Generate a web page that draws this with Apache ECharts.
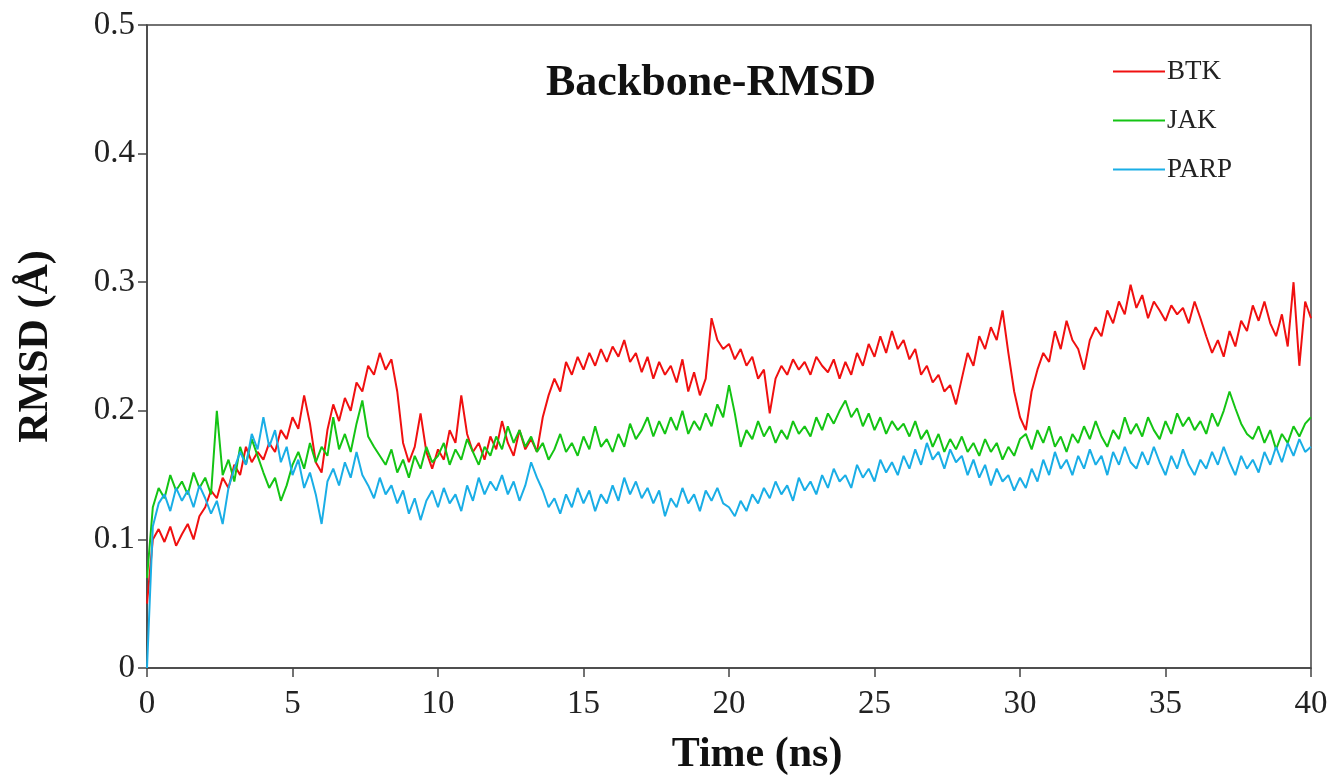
<!DOCTYPE html>
<html>
<head>
<meta charset="utf-8">
<script src="https://cdn.jsdelivr.net/npm/echarts@6/dist/echarts.min.js"></script>
<style>
  html, body { margin: 0; padding: 0; background: #fff; }
  #main { width: 1335px; height: 780px; }
</style>
</head>
<body>
<div id="main"></div>
<script>
// time step between samples (ns)
var step = 0.2;

var btk = [
  0.050, 0.100, 0.108, 0.098, 0.110, 0.095, 0.104, 0.112, 0.100, 0.118,
  0.125, 0.138, 0.132, 0.148, 0.140, 0.158, 0.150, 0.172, 0.160, 0.168,
  0.162, 0.175, 0.168, 0.185, 0.178, 0.195, 0.186, 0.212, 0.190, 0.160,
  0.152, 0.185, 0.205, 0.192, 0.210, 0.200, 0.222, 0.215, 0.235, 0.228,
  0.245, 0.232, 0.240, 0.215, 0.175, 0.160, 0.172, 0.198, 0.168, 0.155,
  0.170, 0.162, 0.185, 0.175, 0.212, 0.182, 0.168, 0.175, 0.162, 0.180,
  0.170, 0.192, 0.175, 0.165, 0.185, 0.170, 0.178, 0.168, 0.195, 0.212,
  0.225, 0.215, 0.238, 0.228, 0.242, 0.232, 0.245, 0.235, 0.248, 0.238,
  0.250, 0.242, 0.255, 0.238, 0.245, 0.230, 0.242, 0.225, 0.238, 0.228,
  0.235, 0.222, 0.240, 0.215, 0.230, 0.212, 0.225, 0.272, 0.255, 0.248,
  0.252, 0.240, 0.248, 0.235, 0.242, 0.225, 0.232, 0.198, 0.225, 0.235,
  0.228, 0.240, 0.232, 0.238, 0.228, 0.242, 0.235, 0.230, 0.240, 0.225,
  0.238, 0.228, 0.245, 0.235, 0.252, 0.242, 0.258, 0.245, 0.262, 0.248,
  0.255, 0.240, 0.248, 0.228, 0.235, 0.222, 0.228, 0.215, 0.220, 0.205,
  0.225, 0.245, 0.235, 0.258, 0.248, 0.265, 0.255, 0.278, 0.245, 0.215,
  0.195, 0.185, 0.215, 0.232, 0.245, 0.238, 0.262, 0.248, 0.270, 0.255,
  0.248, 0.232, 0.255, 0.265, 0.258, 0.278, 0.268, 0.285, 0.275, 0.298,
  0.280, 0.290, 0.272, 0.285, 0.278, 0.270, 0.282, 0.275, 0.280, 0.268,
  0.285, 0.272, 0.258, 0.245, 0.255, 0.242, 0.262, 0.250, 0.270, 0.262,
  0.282, 0.270, 0.285, 0.268, 0.258, 0.275, 0.250, 0.300, 0.235, 0.285,
  0.272
];

var jak = [
  0.070, 0.125, 0.140, 0.132, 0.150, 0.138, 0.145, 0.135, 0.152, 0.140,
  0.148, 0.135, 0.200, 0.150, 0.162, 0.145, 0.172, 0.158, 0.178, 0.165,
  0.152, 0.140, 0.148, 0.130, 0.142, 0.158, 0.168, 0.155, 0.175, 0.160,
  0.172, 0.165, 0.195, 0.170, 0.182, 0.168, 0.190, 0.208, 0.180, 0.172,
  0.165, 0.158, 0.170, 0.152, 0.162, 0.148, 0.165, 0.155, 0.172, 0.160,
  0.165, 0.175, 0.158, 0.170, 0.162, 0.178, 0.168, 0.158, 0.172, 0.165,
  0.180, 0.170, 0.188, 0.175, 0.185, 0.172, 0.180, 0.168, 0.175, 0.162,
  0.170, 0.182, 0.168, 0.175, 0.165, 0.180, 0.170, 0.188, 0.172, 0.178,
  0.168, 0.182, 0.172, 0.190, 0.178, 0.185, 0.195, 0.180, 0.192, 0.182,
  0.195, 0.185, 0.200, 0.182, 0.192, 0.185, 0.198, 0.188, 0.205, 0.195,
  0.220, 0.198, 0.172, 0.185, 0.178, 0.192, 0.180, 0.188, 0.175, 0.185,
  0.178, 0.192, 0.182, 0.188, 0.180, 0.195, 0.185, 0.198, 0.190, 0.200,
  0.208, 0.195, 0.202, 0.188, 0.198, 0.185, 0.195, 0.182, 0.192, 0.185,
  0.190, 0.180, 0.192, 0.178, 0.185, 0.172, 0.182, 0.168, 0.178, 0.170,
  0.180, 0.168, 0.175, 0.165, 0.178, 0.168, 0.175, 0.162, 0.172, 0.165,
  0.178, 0.182, 0.170, 0.185, 0.175, 0.188, 0.172, 0.180, 0.168, 0.182,
  0.175, 0.188, 0.178, 0.192, 0.180, 0.172, 0.185, 0.178, 0.195, 0.182,
  0.190, 0.180, 0.195, 0.185, 0.178, 0.192, 0.182, 0.198, 0.188, 0.195,
  0.185, 0.192, 0.182, 0.198, 0.188, 0.200, 0.215, 0.202, 0.190, 0.182,
  0.178, 0.188, 0.175, 0.185, 0.170, 0.182, 0.175, 0.188, 0.180, 0.190,
  0.195
];

var parp = [
  0.000, 0.110, 0.128, 0.135, 0.122, 0.140, 0.130, 0.138, 0.125, 0.142,
  0.132, 0.120, 0.130, 0.112, 0.140, 0.155, 0.168, 0.158, 0.182, 0.170,
  0.195, 0.172, 0.185, 0.160, 0.172, 0.150, 0.162, 0.140, 0.152, 0.135,
  0.112, 0.145, 0.155, 0.142, 0.160, 0.148, 0.168, 0.150, 0.142, 0.132,
  0.148, 0.135, 0.142, 0.128, 0.138, 0.120, 0.132, 0.115, 0.130, 0.138,
  0.125, 0.140, 0.128, 0.135, 0.122, 0.142, 0.130, 0.148, 0.135, 0.145,
  0.138, 0.150, 0.135, 0.145, 0.130, 0.142, 0.160, 0.148, 0.138, 0.125,
  0.132, 0.120, 0.135, 0.125, 0.140, 0.128, 0.138, 0.122, 0.135, 0.128,
  0.142, 0.130, 0.148, 0.135, 0.145, 0.132, 0.140, 0.128, 0.138, 0.118,
  0.132, 0.125, 0.140, 0.128, 0.135, 0.122, 0.138, 0.130, 0.140, 0.128,
  0.125, 0.118, 0.130, 0.122, 0.135, 0.128, 0.140, 0.132, 0.145, 0.135,
  0.142, 0.130, 0.148, 0.138, 0.145, 0.135, 0.150, 0.140, 0.155, 0.145,
  0.150, 0.140, 0.158, 0.148, 0.155, 0.145, 0.162, 0.152, 0.160, 0.150,
  0.165, 0.155, 0.170, 0.158, 0.175, 0.162, 0.168, 0.155, 0.170, 0.160,
  0.165, 0.150, 0.162, 0.148, 0.158, 0.142, 0.155, 0.145, 0.150, 0.138,
  0.148, 0.140, 0.155, 0.145, 0.162, 0.150, 0.168, 0.155, 0.162, 0.150,
  0.165, 0.155, 0.170, 0.158, 0.165, 0.150, 0.168, 0.158, 0.172, 0.160,
  0.155, 0.168, 0.158, 0.172, 0.160, 0.150, 0.165, 0.155, 0.170, 0.158,
  0.150, 0.162, 0.155, 0.168, 0.158, 0.172, 0.160, 0.150, 0.165, 0.155,
  0.162, 0.152, 0.168, 0.158, 0.172, 0.160, 0.175, 0.165, 0.178, 0.168,
  0.172
];

function pairs(arr) {
  return arr.map(function (v, i) { return [+(i * step).toFixed(1), v]; });
}

var serif = "'Liberation Serif', 'Times New Roman', serif";
var axisCol = '#444';

var myChart = echarts.init(document.getElementById('main'));
var option = {
  animation: false,
  backgroundColor: '#fff',
  title: {
    text: 'Backbone-RMSD',
    left: 706,
    top: 57,
    textAlign: 'center',
    textStyle: { fontFamily: serif, fontWeight: 'bold', fontSize: 44, color: '#111' }
  },
  legend: {
    orient: 'vertical',
    left: 1108,
    top: 53,
    itemWidth: 52,
    itemHeight: 2,
    itemGap: 22,
    icon: 'rect',
    textStyle: { fontFamily: serif, fontSize: 27, color: '#222', padding: [0, 0, 0, -3] },
    data: ['BTK', 'JAK', 'PARP']
  },
  grid: {
    left: 147,
    right: 24,
    top: 25,
    bottom: 112,
    outerBoundsMode: 'none',
    show: true,
    borderColor: axisCol,
    borderWidth: 1.5
  },
  xAxis: {
    type: 'value',
    min: 0,
    max: 40,
    interval: 5,
    name: 'Time (ns)',
    nameLocation: 'middle',
    nameGap: 66,
    nameTextStyle: { fontFamily: serif, fontWeight: 'bold', fontSize: 42, color: '#111', padding: [0, 0, 0, 56] },
    axisLine: { lineStyle: { color: axisCol, width: 1.5 } },
    axisTick: { length: 9, lineStyle: { color: axisCol, width: 1.5 } },
    axisLabel: { fontFamily: serif, fontSize: 33, color: '#222', margin: 20 },
    splitLine: { show: false }
  },
  yAxis: {
    type: 'value',
    min: 0,
    max: 0.5,
    interval: 0.1,
    name: 'RMSD (Å)',
    nameLocation: 'middle',
    nameGap: 90,
    nameTextStyle: { fontFamily: serif, fontWeight: 'bold', fontSize: 42, color: '#111' },
    axisLine: { lineStyle: { color: axisCol, width: 1.5 } },
    axisTick: { length: 9, lineStyle: { color: axisCol, width: 1.5 } },
    axisLabel: { fontFamily: serif, fontSize: 33, color: '#222', margin: 12 },
    splitLine: { show: false }
  },
  series: [
    { name: 'BTK', type: 'line', data: pairs(btk), showSymbol: false, color: '#f01010',
      lineStyle: { width: 2 } },
    { name: 'JAK', type: 'line', data: pairs(jak), showSymbol: false, color: '#14c414',
      lineStyle: { width: 2 } },
    { name: 'PARP', type: 'line', data: pairs(parp), showSymbol: false, color: '#1aaee6',
      lineStyle: { width: 2 } }
  ]
};
myChart.setOption(option);
</script>
</body>
</html>
